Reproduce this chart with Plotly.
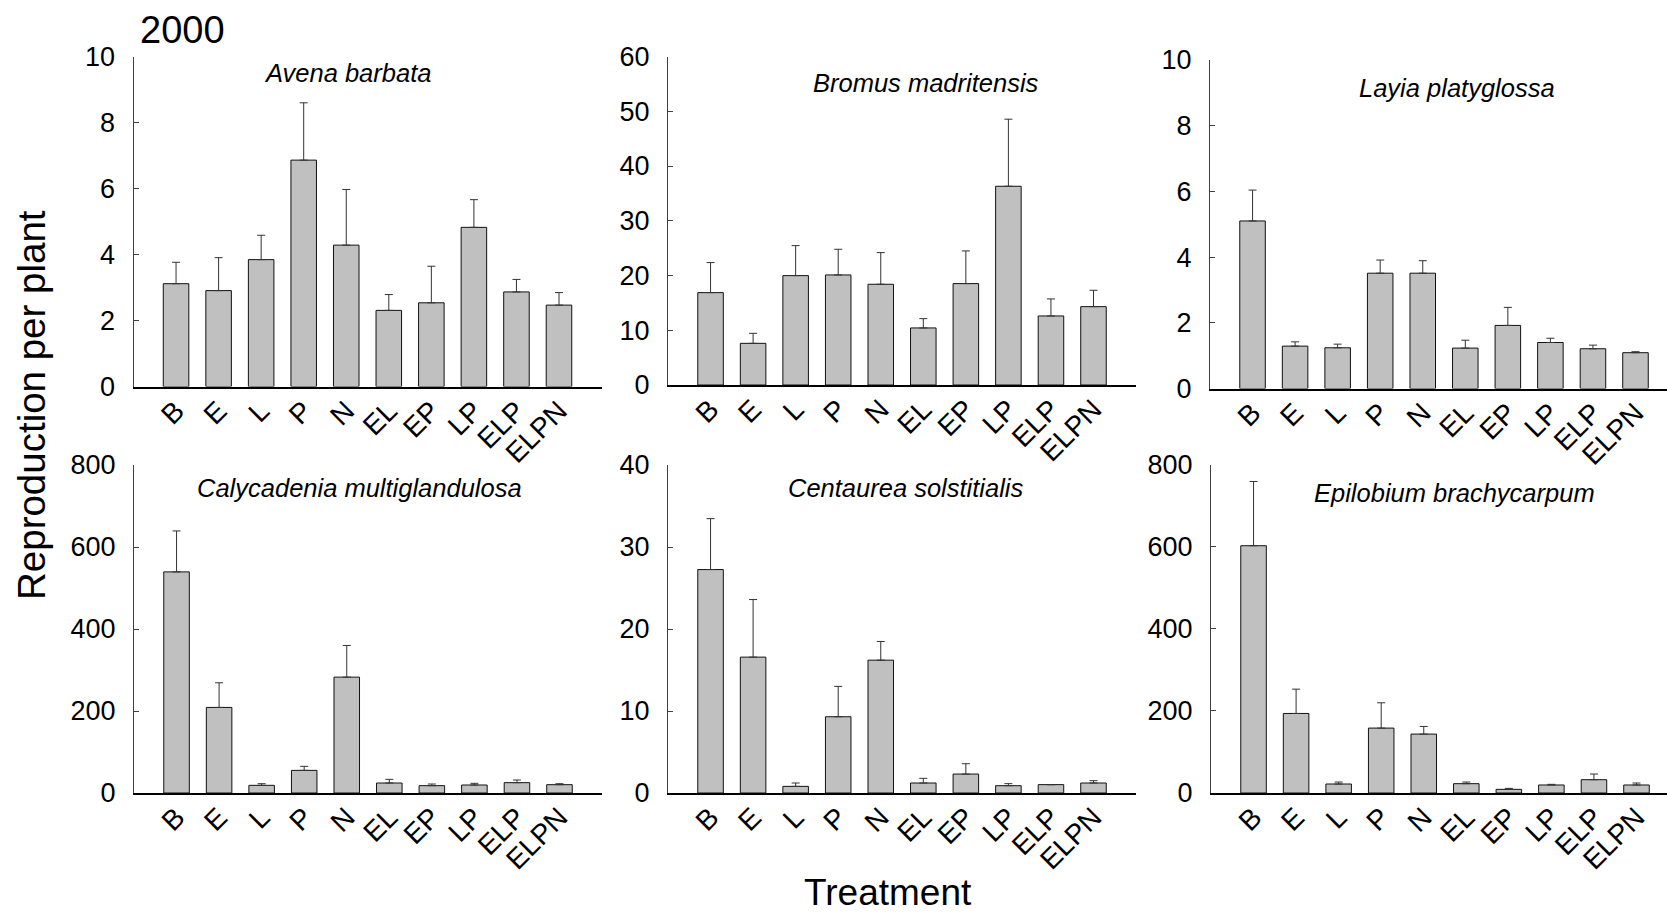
import plotly.graph_objects as go

W, H = 1667, 913

treatments = ["B", "E", "L", "P", "N", "EL", "EP", "LP", "ELP", "ELPN"]

avena_mean = [3.12, 2.91, 3.85, 6.87, 4.29, 2.31, 2.54, 4.83, 2.87, 2.47]
avena_se = [0.65, 1.00, 0.74, 1.74, 1.69, 0.48, 1.11, 0.84, 0.38, 0.38]

bromus_mean = [16.87, 7.61, 19.98, 20.10, 18.40, 10.42, 18.52, 36.30, 12.61, 14.31]
bromus_se = [5.49, 1.83, 5.48, 4.69, 5.78, 1.70, 5.97, 12.25, 3.11, 2.99]

layia_mean = [5.10, 1.29, 1.24, 3.51, 3.51, 1.23, 1.92, 1.40, 1.21, 1.09]
layia_se = [0.94, 0.13, 0.11, 0.40, 0.38, 0.24, 0.55, 0.13, 0.11, 0.03]

calycadenia_mean = [539.3, 208.7, 18.7, 55.2, 282.6, 24.4, 17.9, 19.5, 25.2, 20.3]
calycadenia_se = [99.9, 60.1, 4.0, 9.8, 77.2, 8.9, 4.0, 4.1, 6.5, 2.4]

centaurea_mean = [27.25, 16.57, 0.81, 9.30, 16.20, 1.22, 2.31, 0.89, 1.02, 1.22]
centaurea_se = [6.21, 7.02, 0.41, 3.70, 2.28, 0.57, 1.26, 0.25, 0.0, 0.28]

epilobium_mean = [602.2, 193.7, 21.9, 158.1, 143.5, 22.7, 8.9, 19.5, 32.4, 19.5]
epilobium_se = [156.5, 59.2, 4.8, 61.6, 18.6, 4.0, 2.4, 1.6, 13.8, 4.8]

species = ["Avena barbata", "Bromus madritensis", "Layia platyglossa",
           "Calycadenia multiglandulosa", "Centaurea solstitialis", "Epilobium brachycarpum"]
y_max = [10, 60, 10, 800, 40, 800]
y_step = [2, 10, 2, 200, 10, 200]

means = [avena_mean, bromus_mean, layia_mean, calycadenia_mean, centaurea_mean, epilobium_mean]
ses = [avena_se, bromus_se, layia_se, calycadenia_se, centaurea_se, epilobium_se]

# layout geometry (pixels)
x_left = [133.5, 668, 1210, 134, 668, 1211]
x_right = [601.5, 1136, 1667, 602, 1136, 1667]
y_top = [57, 56.5, 60, 465, 465, 464.5]
y_bot = [386.5, 385, 388.5, 793, 793, 793]
step_px = 42.55
title_xy = [(347, 72.7), (925.5, 82.7), (1456.7, 87.7),
            (359.7, 487.7), (905.9, 487.7), (1454.6, 492.7)]

FONT = "Arial, Liberation Sans, sans-serif"

fig = go.Figure()
annotations = []
for i in range(6):
    n = "" if i == 0 else str(i + 1)
    fig.add_trace(go.Bar(
        x=treatments, y=means[i], width=0.6,
        marker=dict(color="#c0c0c0", line=dict(color="#111111", width=1)),
        error_y=dict(type="data", array=ses[i], arrayminus=[0] * len(ses[i]),
                     symmetric=False, color="#333333", thickness=1, width=4),
        xaxis="x" + n, yaxis="y" + n, showlegend=False, hoverinfo="skip"))
    xr_hi = -1 + (x_right[i] - x_left[i]) / step_px
    fig.layout["xaxis" + n] = dict(
        domain=[x_left[i] / W, x_right[i] / W], anchor="y" + n,
        type="category", categoryorder="array", categoryarray=treatments,
        range=[-1, xr_hi], showline=True, linecolor="black", linewidth=1.5,
        ticks="", showgrid=False, zeroline=False, tickangle=-45, automargin=False,
        ticklabelstandoff=-5,
        tickfont=dict(family=FONT, size=28, color="black"), fixedrange=True)
    fig.layout["yaxis" + n] = dict(
        domain=[1 - y_bot[i] / H, 1 - y_top[i] / H], anchor="x" + n,
        range=[0, y_max[i]], dtick=y_step[i], tick0=0, automargin=False,
        showline=True, linecolor="#404040", linewidth=1,
        ticks="inside", ticklen=5, tickwidth=1, tickcolor="#404040",
        showgrid=False, zeroline=False, ticklabelstandoff=12,
        tickfont=dict(family=FONT, size=27, color="black"), fixedrange=True)
    tx, ty = title_xy[i]
    annotations.append(dict(
        text="<i>" + species[i] + "</i>", x=tx / W, y=1 - ty / H,
        xref="paper", yref="paper", xanchor="center", yanchor="middle",
        showarrow=False, font=dict(family=FONT, size=25.5, color="black")))

annotations.append(dict(text="2000", x=138 / W, y=1 - 30 / H, xref="paper", yref="paper",
                        xanchor="left", yanchor="middle", showarrow=False,
                        font=dict(family=FONT, size=38, color="black")))
annotations.append(dict(text="Reproduction per plant", x=32 / W, y=1 - 405 / H,
                        xref="paper", yref="paper", xanchor="center", yanchor="middle",
                        textangle=-90, showarrow=False,
                        font=dict(family=FONT, size=38.5, color="black")))
annotations.append(dict(text="Treatment", x=888 / W, y=1 - 892 / H,
                        xref="paper", yref="paper", xanchor="center", yanchor="middle",
                        showarrow=False, font=dict(family=FONT, size=37, color="black")))

fig.update_layout(template="none", width=W, height=H, margin=dict(l=0, r=0, t=0, b=0, pad=0),
                  plot_bgcolor="white", paper_bgcolor="white",
                  annotations=annotations, showlegend=False)

fig.write_html("out.html", config={"displayModeBar": False},
               post_script="document.body.style.margin='0';document.body.style.overflow='hidden';")
